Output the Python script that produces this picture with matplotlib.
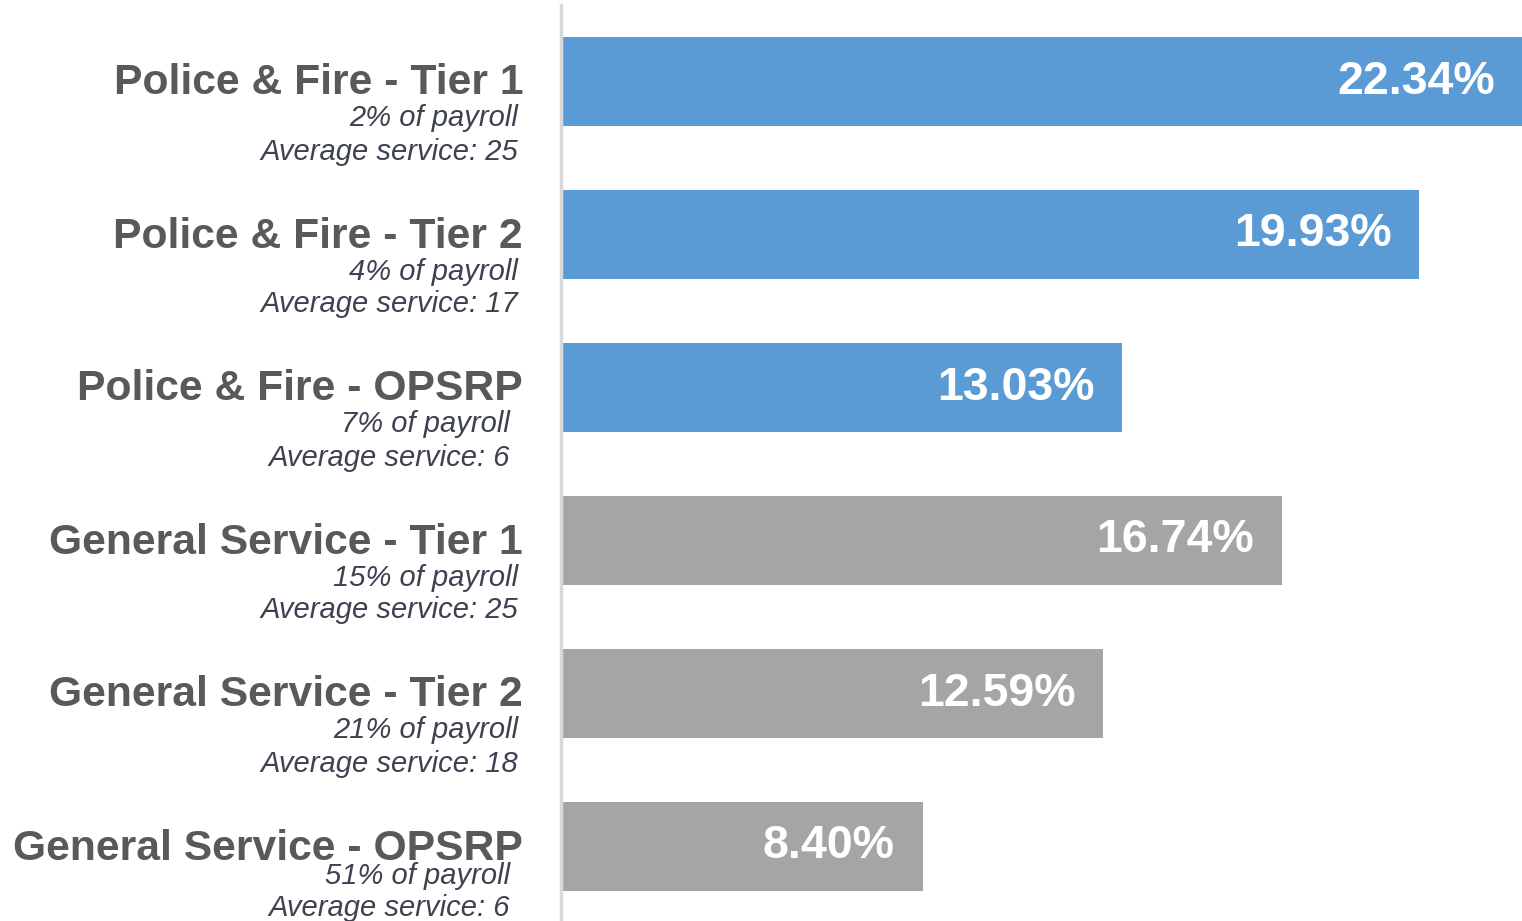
import matplotlib.pyplot as plt

plt.rcParams['font.family'] = ['Liberation Sans', 'DejaVu Sans']

names = ['Police & Fire - Tier 1', 'Police & Fire - Tier 2', 'Police & Fire - OPSRP',
         'General Service - Tier 1', 'General Service - Tier 2', 'General Service - OPSRP']
payroll = ['2%', '4%', '7%', '15%', '21%', '51%']
service = [25, 17, 6, 25, 18, 6]
rates = [22.34, 19.93, 13.03, 16.74, 12.59, 8.40]
groups = ['pf', 'pf', 'pf', 'gs', 'gs', 'gs']

colors = {'pf': '#5B9BD5', 'gs': '#A5A5A5'}

fig = plt.figure(figsize=(15.22, 9.21), dpi=100)
ax = fig.add_axes([561 / 1522, -2 / 921, 961 / 1522, 918 / 921])

y = list(range(len(names)))
ax.barh(y, rates, height=0.58, color=[colors[g] for g in groups])
ax.set_xlim(0, 22.31)
ax.set_ylim(5.5, -0.5)

for s in ['top', 'right', 'bottom']:
    ax.spines[s].set_visible(False)
ax.spines['left'].set_color('#D9D9D9')
ax.spines['left'].set_linewidth(2.5)
ax.set_xticks([])
ax.set_yticks([])

tr = ax.get_yaxis_transform()
for i, (n, p, s, r) in enumerate(zip(names, payroll, service, rates)):
    sub_x = -51 if 'OPSRP' in n else -43
    off1, off2 = (-38, -70) if i == len(names) - 1 else (-45, -78)
    ax.annotate(n, xy=(0, i), xycoords=tr, xytext=(-38, -13), textcoords='offset pixels',
                ha='right', va='baseline', fontsize=30.7, fontweight='bold', color='#595959')
    ax.annotate(p + ' of payroll', xy=(0, i), xycoords=tr, xytext=(sub_x, off1),
                textcoords='offset pixels', ha='right', va='baseline', fontsize=21,
                style='italic', color='#3D4150')
    ax.annotate('Average service: %d' % s, xy=(0, i), xycoords=tr, xytext=(sub_x, off2),
                textcoords='offset pixels', ha='right', va='baseline', fontsize=21,
                style='italic', color='#3D4150')
    ax.annotate('%.2f%%' % r, xy=(r, i), xycoords='data', xytext=(-28, 0),
                textcoords='offset pixels', ha='right', va='center', fontsize=33.5,
                fontweight='bold', color='white', annotation_clip=False)

fig.savefig('out.png', dpi=100)
